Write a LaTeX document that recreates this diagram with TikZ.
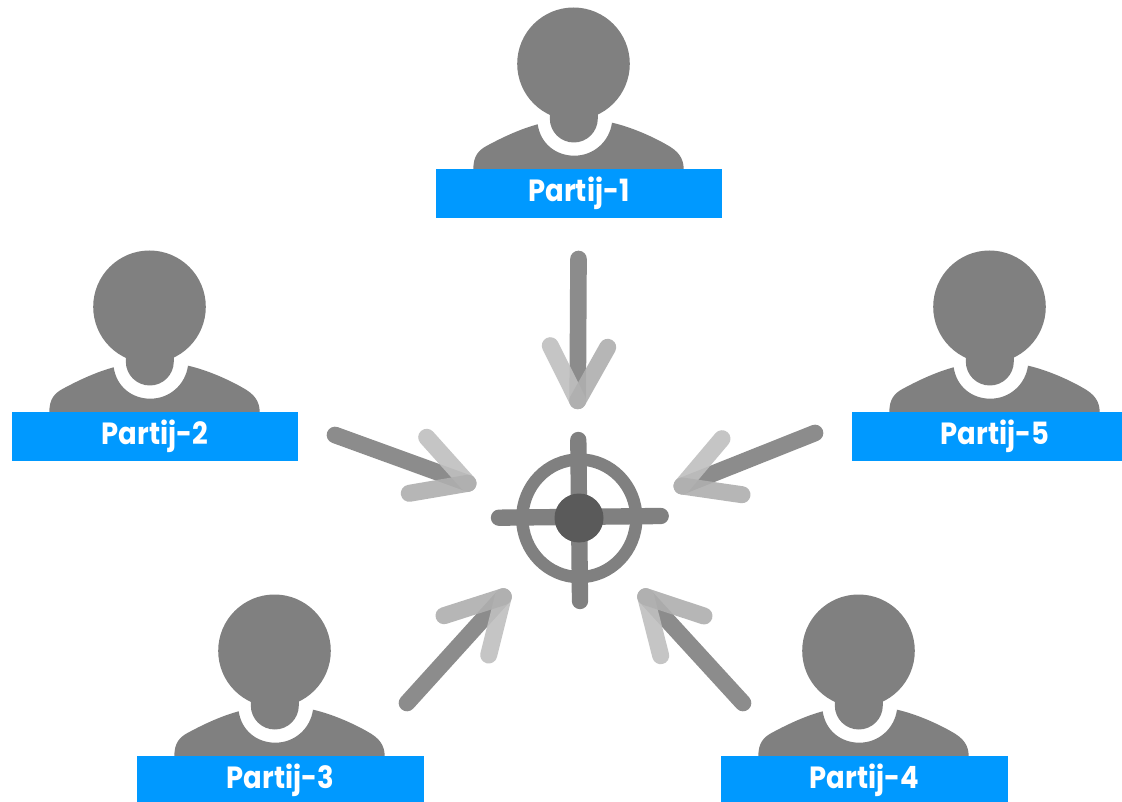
\documentclass[tikz,border=0pt]{standalone}
\usepackage{fontspec}
\setmainfont{Poppins}[BoldFont={* Bold},BoldFeatures={FakeStretch=0.895}]
\definecolor{bodygray}{HTML}{808080}
\definecolor{labelblue}{HTML}{0099FF}
\definecolor{coregray}{HTML}{5A5A5A}
\definecolor{shaftgray}{HTML}{8C8C8C}
\definecolor{barbgrayA}{HTML}{BFBFBF}
\definecolor{barbgrayB}{HTML}{AFAFAF}
\tikzset{
  x=0.75pt,y=-0.75pt,
  figure/.style={fill=bodygray,draw=none},
  labelbox/.style={fill=labelblue,draw=none,text=white,font=\fontsize{23pt}{24pt}\selectfont\bfseries,
    minimum width=214.5pt,minimum height=36.75pt,inner sep=0pt,outer sep=0pt,anchor=north west},
  wide/.style={minimum width=215.25pt},
  shaft/.style={draw=shaftgray,line width=12.5pt,line cap=round},
  barbA/.style={draw=barbgrayA,line width=12.75pt,line cap=round,opacity=.9},
  barbB/.style={draw=barbgrayB,line width=12.75pt,line cap=round,opacity=.9},
  aim/.style={draw=bodygray,line width=12.25pt,line cap=round},
  pics/person/.style={code={
    \fill[figure] (0.2,63.8) circle[radius=56.3];
    \fill[figure] (-23.5,100) -- (-23.5,118.5) arc[start angle=180,end angle=0,radius=24] -- (24.5,100) -- cycle;
    \fill[figure] (-100,169.5) .. controls (-100,156) and (-95,150) .. (-85,145)
       .. controls (-70,137) and (-53,129) .. (-35.6,124.3)
       .. controls (-33,143) and (-18,155.7) .. (1,155.7)
       .. controls (20,155.7) and (36,142) .. (38.7,122.7)
       .. controls (58,127) and (80,137) .. (93,144.5)
       .. controls (105,151) and (110.4,158) .. (110.4,169.5) -- cycle;
  }}
}
\begin{document}
\begin{tikzpicture}
\useasboundingbox (0,0) rectangle (1122,802);
\clip (0,0) rectangle (1122,802);
\fill[white] (0,0) rectangle (1122,802);
% figures
\pic at (573.3,0) {person};
\pic at (149.3,243) {person};
\pic at (989.3,243) {person};
\pic at (274.3,587) {person};
\pic at (858.3,587) {person};
% labels
\node[labelbox] (p1) at (436,169) {Partij-1};
\node[labelbox] (p2) at (12,412) {Partij-2};
\node[labelbox] (p5) at (852,412) {Partij-5};
\node[labelbox,wide] (p3) at (137,756) {Partij-3};
\node[labelbox,wide] (p4) at (721,756) {Partij-4};
% target
\coordinate (core) at (579,518);
\coordinate (crossT) at (578.3,440); \coordinate (crossB) at (580,601);
\coordinate (crossL) at (499,517.7); \coordinate (crossR) at (660.7,516);
\draw[aim] (crossT) -- (crossB);
\draw[aim] (crossL) -- (crossR);
\draw[draw=bodygray,line width=9.3pt] (579.3,518.3) ellipse[x radius=57,y radius=58.8];
\fill[coregray] (core) circle[radius=24.5];
% arrows
\coordinate (t1) at (577.7,400.7);
\coordinate (t2) at (468,483.3);
\coordinate (t5) at (682,486);
\coordinate (t3) at (503.3,596.7);
\coordinate (t4) at (645.7,596.7);
\coordinate (s1) at (578.5,259);
\coordinate (s2) at (335,435);
\coordinate (s5) at (815,433);
\coordinate (s3) at (407,703);
\coordinate (s4) at (743,703);
\draw[shaft] (s1) -- (t1);
\draw[barbA] (550.3,345.7) -- (t1);
\draw[barbB] (607.7,347.3) -- (t1);
\draw[shaft] (s2) -- (t2);
\draw[barbA] (426.7,437.3) -- (t2);
\draw[barbB] (409.3,493.3) -- (t2);
\draw[shaft] (s5) -- (t5);
\draw[barbA] (722,438.7) -- (t5);
\draw[barbB] (742,494.7) -- (t5);
\draw[shaft] (s3) -- (t3);
\draw[barbA] (488.7,655) -- (t3);
\draw[barbB] (444,615.7) -- (t3);
\draw[shaft] (s4) -- (t4);
\draw[barbA] (660.7,655.7) -- (t4);
\draw[barbB] (704,616) -- (t4);
\end{tikzpicture}
\end{document}
